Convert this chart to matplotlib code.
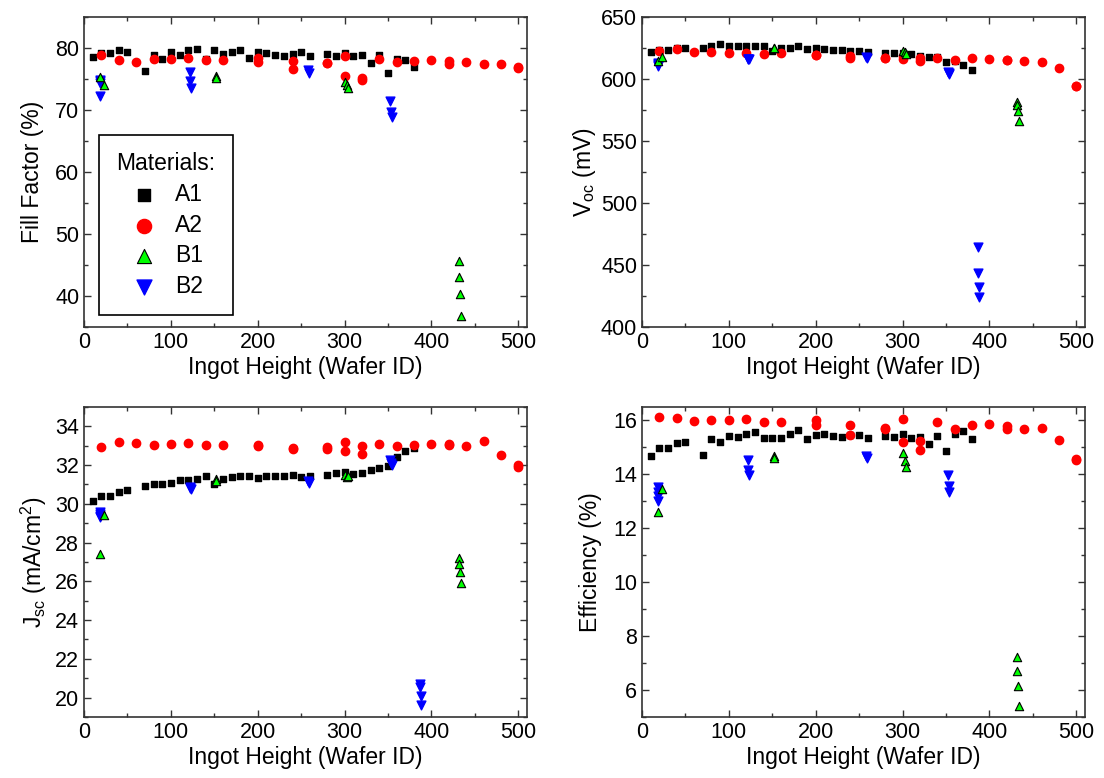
import numpy as np
import matplotlib
matplotlib.use("Agg")
import matplotlib.pyplot as plt
from matplotlib.ticker import MultipleLocator

plt.rcParams['font.family'] = ['Liberation Sans', 'DejaVu Sans']
plt.rcParams['mathtext.fontset'] = 'custom'
plt.rcParams['mathtext.rm'] = 'Liberation Sans'

nan = np.nan

# A1 wafers
a1_x = [10, 20, 30, 40, 50, 70, 80, 90, 100, 110, 120, 130, 140, 150, 160, 170, 180, 190,
        200, 210, 220, 230, 240, 250, 260, 280, 290, 300, 310, 320, 330, 340, 350, 360, 370, 380]
a1_ff = [78.5, 79.2, 79.2, 79.7, 79.4, 76.3, 78.9, 78.3, 79.3, 78.9, 79.6, 79.8, 78.3, 79.6, 79.0, 79.3, 79.7, 78.4,
         79.3, 79.2, 78.9, 78.7, 79.0, 79.3, 78.7, 79.0, 78.7, 79.2, 78.7, 78.9, 77.5, 78.9, 76.0, 78.2, 78.1, 77.0]
a1_voc = [622.0, 623.7, 623.7, 625.0, 625.3, 625.3, 626.9, 628.0, 626.3, 626.3, 626.9, 626.9, 626.3, 622.8, 624.7, 625.3, 626.3, 623.9,
          624.7, 624.2, 623.7, 623.7, 622.8, 622.8, 622.0, 621.2, 621.2, 621.0, 619.9, 618.8, 618.0, 617.5, 614.0, 614.5, 611.6, 607.3]
a1_jsc = [30.14, 30.43, 30.43, 30.59, 30.74, 30.90, 31.05, 31.05, 31.10, 31.25, 31.21, 31.28, 31.45, 31.05, 31.28, 31.37, 31.45, 31.42,
          31.33, 31.44, 31.45, 31.44, 31.51, 31.40, 31.42, 31.49, 31.57, 31.66, 31.56, 31.57, 31.73, 31.83, 31.96, 32.40, 32.75, 32.87]
a1_eff = [14.67, 14.99, 14.96, 15.17, 15.20, 14.72, 15.31, 15.21, 15.41, 15.39, 15.51, 15.58, 15.35, 15.35, 15.35, 15.49, 15.64, 15.33,
          15.46, 15.49, 15.44, 15.38, 15.46, 15.46, 15.35, 15.41, 15.38, 15.51, 15.35, 15.37, 15.12, 15.42, 14.86, 15.49, 15.62, 15.30]

# A2 wafers
a2_x = [20, 40, 60, 80, 100, 120, 140, 160, 200, 200, 240, 240, 280, 280, 300, 300, 320, 320,
        340, 360, 380, 400, 420, 420, 440, 460, 480, 500, 500]
a2_ff = [78.8, 78.1, 77.7, 78.2, 78.2, 78.4, 78.1, 78.1, 78.4, 77.7, 77.9, 76.6, 77.6, 77.5, 78.7, 75.5, 75.2, 74.8,
         78.3, 77.7, 77.9, 78.1, 77.9, 77.4, 77.7, 77.4, 77.4, 77.0, 76.7]
a2_voc = [622.6, 623.9, 622.0, 621.5, 621.2, 620.7, 619.9, 620.7, 619.4, 619.2, 618.8, 616.7, 617.2, 616.8, 618.8, 616.5, 616.7, 614.5,
          617.2, 615.3, 616.7, 615.9, 615.3, 615.0, 614.8, 613.4, 608.9, 594.4, 594.2]
a2_jsc = [32.94, 33.19, 33.15, 33.03, 33.08, 33.15, 33.06, 33.03, 33.03, 33.00, 32.87, 32.85, 32.94, 32.82, 33.19, 32.75, 32.99, 32.56,
          33.08, 32.99, 33.03, 33.08, 33.03, 33.08, 32.98, 33.22, 32.53, 31.92, 32.00]
a2_eff = [16.11, 16.10, 15.98, 16.00, 16.02, 16.07, 15.95, 15.96, 16.00, 15.83, 15.83, 15.46, 15.73, 15.67, 16.07, 15.20, 15.22, 14.91,
          15.93, 15.70, 15.83, 15.86, 15.78, 15.70, 15.68, 15.72, 15.28, 14.57, 14.55]

# B1 wafers
b1_x = [18.4, 22.8, 152.0, 152.5, 301.0, 302.5, 304.0, 431.3, 431.7, 432.4, 433.6]
b1_ff = [75.3, 74.1, 75.4, 75.2, 74.5, 74.0, 73.5, 45.6, 43.0, 40.4, 36.8]
b1_voc = [614.8, 618.0, 625.3, 625.0, 622.8, 621.5, 620.2, 581.7, 579.0, 574.2, 566.4]
b1_jsc = [27.4, 29.4, 31.3, 31.2, 31.5, 31.4, 31.45, 27.2, 26.9, 26.5, 25.9]
b1_eff = [12.62, 13.44, 14.68, 14.62, 14.78, 14.49, 14.28, 7.21, 6.69, 6.14, 5.40]

# B2 wafers (nan = off scale)
b2_x = [18.0, 18.2, 18.4, 18.6, 121.5, 122.5, 122.8, 258.0, 258.6, 352.5, 353.3, 354.0, 386.3, 386.7, 387.6, 388.4]
b2_ff = [74.9, 74.6, 74.3, 72.3, 76.2, 74.6, 73.5, 76.5, 75.9, 71.5, 69.7, 68.9, nan, nan, nan, nan]
b2_voc = [613.2, 612.0, 611.0, 610.5, 616.5, 616.0, 615.7, 617.5, 617.0, 605.5, 604.5, 604.0, 464.5, 443.8, 432.5, 423.9]
b2_jsc = [29.6, 29.5, 29.36, 29.3, 30.85, 30.8, 30.75, 31.2, 31.1, 32.25, 32.1, 32.0, 20.7, 20.55, 20.1, 19.6]
b2_eff = [13.55, 13.35, 13.2, 13.0, 14.52, 14.15, 13.96, 14.68, 14.6, 13.96, 13.57, 13.36, nan, nan, nan, nan]

fig = plt.figure(figsize=(11.04, 7.78), dpi=100)

W, H = 0.4013, 0.3985
positions = [(0.0761, 0.5797), (0.5815, 0.5797), (0.0761, 0.0784), (0.5815, 0.0784)]
ylabels = ['Fill Factor (%)', r'V$_{\mathregular{oc}}$ (mV)',
           r'J$_{\mathregular{sc}}$ (mA/cm$^{\mathregular{2}}$)', 'Efficiency (%)']
ylims = [(35, 85), (400, 650), (19, 35), (5, 16.5)]
ymajor = [10, 50, 2, 2]
yminor = [5, 25, 1, 1]
ylabelpad = [8, 2, 4, 8]
data = [(a1_ff, a2_ff, b1_ff, b2_ff), (a1_voc, a2_voc, b1_voc, b2_voc),
        (a1_jsc, a2_jsc, b1_jsc, b2_jsc), (a1_eff, a2_eff, b1_eff, b2_eff)]

for i in range(4):
    ax = fig.add_axes([positions[i][0], positions[i][1], W, H])
    a1, a2, b1, b2 = data[i]
    ax.scatter(a1_x, a1, marker='s', s=22, color='black', label='A1', zorder=3)
    ax.scatter(a2_x, a2, marker='o', s=36, color='#ff0000', label='A2', zorder=3)
    ax.scatter(b2_x, b2, marker='v', s=40, color='#0000ff', label='B2', zorder=4)
    ax.scatter(b1_x, b1, marker='^', s=36, color='#00ff00', edgecolors='black',
               linewidths=0.8, label='B1', zorder=5)
    ax.set_xlim(0, 510)
    ax.set_ylim(*ylims[i])
    ax.xaxis.set_major_locator(MultipleLocator(100))
    ax.xaxis.set_minor_locator(MultipleLocator(50))
    ax.yaxis.set_major_locator(MultipleLocator(ymajor[i]))
    ax.yaxis.set_minor_locator(MultipleLocator(yminor[i]))
    ax.tick_params(which='both', direction='in', top=True, right=True, labelsize=15.5,
                   width=1.0, color='#333333')
    ax.tick_params(which='major', length=5)
    ax.tick_params(which='minor', length=3)
    for sp in ax.spines.values():
        sp.set_linewidth(1.2)
        sp.set_color('#333333')
    ax.set_xlabel('Ingot Height (Wafer ID)', fontsize=16.5, labelpad=2)
    ax.set_ylabel(ylabels[i], fontsize=16.5, labelpad=ylabelpad[i])

    if i == 0:
        h, l = ax.get_legend_handles_labels()
        order = [0, 1, 3, 2]
        leg = ax.legend([h[k] for k in order], [l[k] for k in order],
                        title='Materials:', fontsize=16.5, title_fontsize=16.5,
                        loc='lower left', bbox_to_anchor=(0.034, 0.039), borderaxespad=0,
                        markerscale=1.7, fancybox=False, edgecolor='black',
                        framealpha=1, labelspacing=0.33, handletextpad=0.7,
                        borderpad=0.75, handlelength=1.3)
        leg.get_frame().set_linewidth(1.2)

plt.savefig('out.png', dpi=100)
